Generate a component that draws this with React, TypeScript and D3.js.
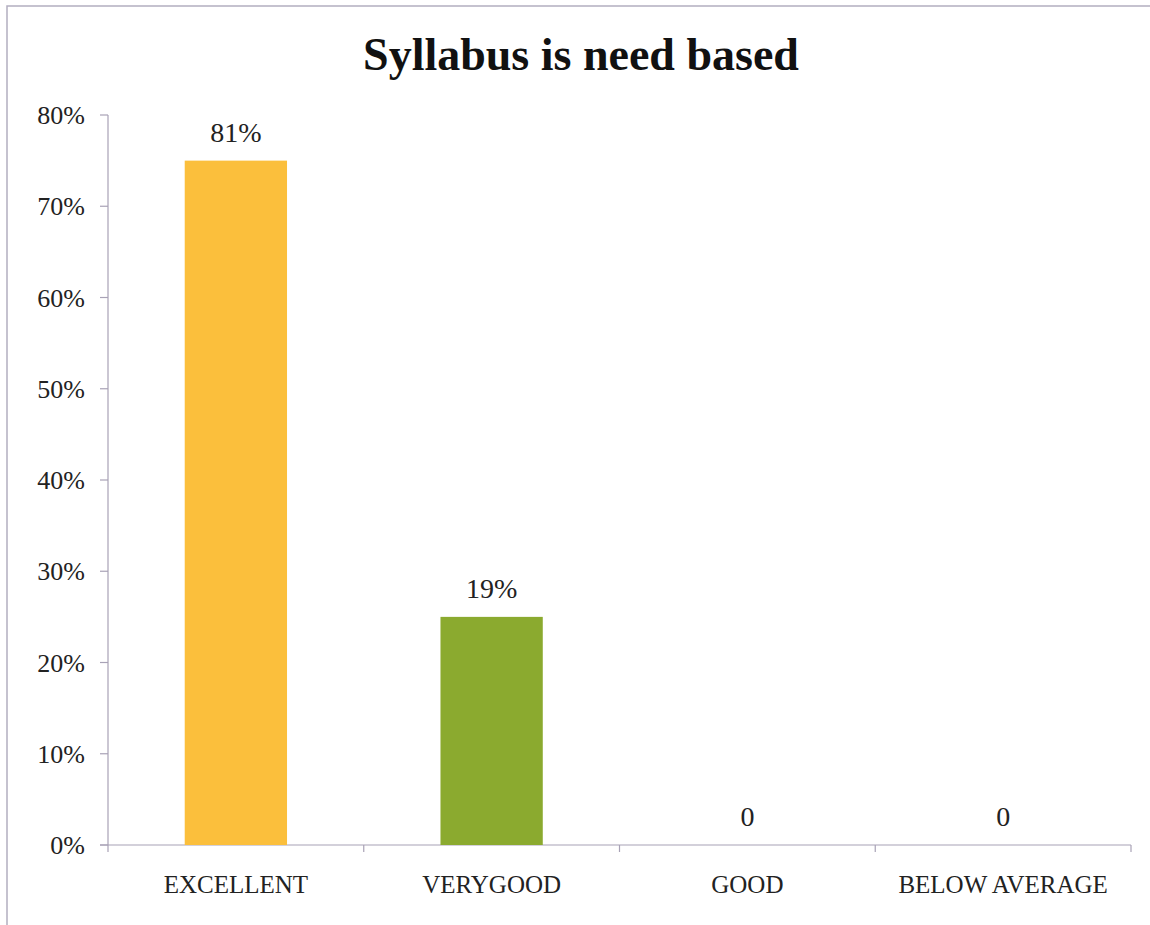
import React from "react";
import * as d3 from "d3";

const title = "Syllabus is need based";
const categories = ["EXCELLENT", "VERYGOOD", "GOOD", "BELOW AVERAGE"];
const barValues = [0.75, 0.25, 0, 0];
const valueLabels = ["81%", "19%", "0", "0"];
const barColors = ["#FBBF3C", "#8BAA2F", "#C0504D", "#4F81BD"];
const yTicks = [0, 0.1, 0.2, 0.3, 0.4, 0.5, 0.6, 0.7, 0.8];

const W = 1150;
const H = 925;
const plot = { left: 108, right: 1131, top: 115, bottom: 845 };
const axisColor = "#A8A2B6";
const font = "'Liberation Serif', 'Times New Roman', serif";

export default function App() {
  const xBand = d3.scaleBand<string>().domain(categories).range([plot.left, plot.right]).padding(0);
  const y = d3.scaleLinear().domain([0, 0.8]).range([plot.bottom, plot.top]);
  const fmt = d3.format(".0%");
  const bw = xBand.bandwidth();
  const barW = bw * 0.4;

  return (
    <svg width={W} height={H} style={{ position: "absolute", left: 0, top: 0, background: "#fff" }}>
      <rect x={0} y={0} width={W} height={H} fill="#fff" />
      <rect x={7} y={6} width={W + 20} height={H + 20} fill="none" stroke="#B3AEC0" strokeWidth={1.5} />
      <text x={581} y={70} textAnchor="middle" fontFamily={font} fontWeight="bold" fontSize={46} fill="#111">
        {title}
      </text>
      {/* y axis */}
      <line x1={plot.left} x2={plot.left} y1={plot.top} y2={plot.bottom} stroke={axisColor} strokeWidth={1.2} />
      {yTicks.map((t) => (
        <g key={t}>
          <line x1={plot.left - 8} x2={plot.left} y1={y(t)} y2={y(t)} stroke={axisColor} strokeWidth={1.2} />
          <text x={85} y={y(t)} dy="0.35em" textAnchor="end" fontFamily={font} fontSize={26} fill="#222">
            {fmt(t)}
          </text>
        </g>
      ))}
      {/* x axis */}
      <line x1={plot.left - 8} x2={plot.right} y1={plot.bottom} y2={plot.bottom} stroke={axisColor} strokeWidth={1.2} />
      {[...categories.map((c) => xBand(c)!), plot.right].map((v, i) => (
        <line key={i} x1={v} x2={v} y1={plot.bottom} y2={plot.bottom + 7} stroke={axisColor} strokeWidth={1.2} />
      ))}
      {categories.map((c, i) => {
        const cx = xBand(c)! + bw / 2;
        return (
          <g key={c}>
            {barValues[i] > 0 && (
              <rect x={cx - barW / 2} y={y(barValues[i])} width={barW} height={plot.bottom - y(barValues[i])} fill={barColors[i]} />
            )}
            <text x={cx} y={y(barValues[i]) - 19} textAnchor="middle" fontFamily={font} fontSize={28} fill="#222">
              {valueLabels[i]}
            </text>
            <text x={cx} y={893} textAnchor="middle" fontFamily={font} fontSize={25} fill="#222">
              {c}
            </text>
          </g>
        );
      })}
    </svg>
  );
}
